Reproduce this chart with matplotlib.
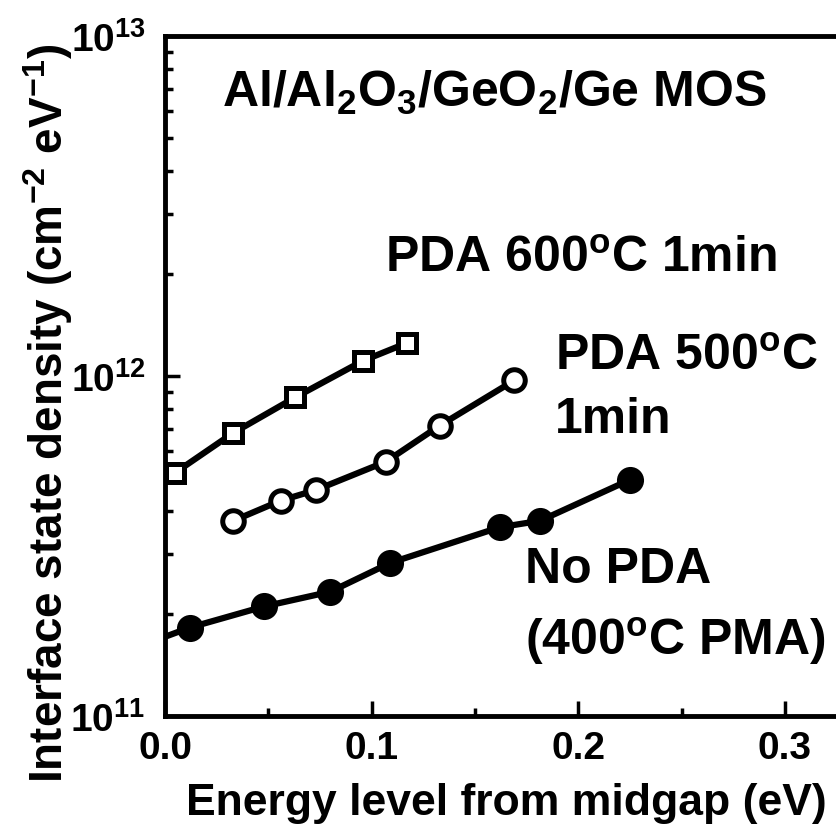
import numpy as np
import matplotlib
matplotlib.use("Agg")
import matplotlib.pyplot as plt

plt.rcParams['font.family'] = ['Liberation Sans', 'DejaVu Sans']
plt.rcParams['font.weight'] = 'bold'
plt.rcParams['mathtext.fontset'] = 'custom'
plt.rcParams['mathtext.rm'] = 'Liberation Sans:bold'
plt.rcParams['mathtext.it'] = 'Liberation Sans:bold'
plt.rcParams['mathtext.bf'] = 'Liberation Sans:bold'
plt.rcParams['mathtext.default'] = 'rm'

# PDA 600C 1min (open squares)
e_600 = [0.005, 0.033, 0.063, 0.096, 0.117]
dit_600 = [5.2e11, 6.8e11, 8.65e11, 1.11e12, 1.25e12]

# PDA 500C 1min (open circles)
e_500 = [0.033, 0.056, 0.073, 0.107, 0.133, 0.169]
dit_500 = [3.75e11, 4.3e11, 4.62e11, 5.6e11, 7.15e11, 9.7e11]

# No PDA, 400C PMA (filled circles); first entry is where the line meets the axis
e_none = [0.0, 0.012, 0.048, 0.080, 0.109, 0.162, 0.1815, 0.225]
dit_none = [1.71e11, 1.82e11, 2.1e11, 2.32e11, 2.82e11, 3.59e11, 3.75e11, 4.95e11]

xticks = [0.0, 0.1, 0.2, 0.3]
xticklabels = ['0.0', '0.1', '0.2', '0.3']
yticks = [1e11, 1e12, 1e13]
yticklabels = [r'$10^{11}$', r'$10^{12}$', r'$10^{13}$']

fig = plt.figure(figsize=(8.36, 8.29), dpi=100)
ax = fig.add_axes([165 / 836, 1 - 717 / 829, 0.35 * 2066 / 836, 680 / 829])

ax.plot(e_600, dit_600, color='black', lw=4.5, marker='s', ms=13, mew=3.6,
        mfc='white', mec='black', clip_on=False, zorder=3)
ax.plot(e_500, dit_500, color='black', lw=4.5, marker='o', ms=15.5, mew=3.6,
        mfc='white', mec='black', zorder=3)
ax.plot(e_none, dit_none, color='black', lw=4.5, marker='o', ms=18, mew=1.5,
        mfc='black', mec='black', markevery=list(range(1, len(e_none))), zorder=3)

ax.set_yscale('log')
ax.set_xlim(0, 0.35)
ax.set_ylim(1e11, 1e13)
ax.set_xticks(xticks)
ax.set_xticklabels(xticklabels)
ax.set_xticks([0.05, 0.15, 0.25], minor=True)
ax.set_yticks(yticks)
ax.set_yticklabels(yticklabels)

for s in ['left', 'bottom', 'top']:
    ax.spines[s].set_linewidth(3.5)
ax.spines['right'].set_visible(False)

ax.tick_params(which='major', direction='in', length=11, width=2.5,
               labelsize=28, pad=10)
ax.tick_params(which='minor', direction='in', length=6, width=2.5)
ax.tick_params(axis='y', which='both', labelsize=28, pad=14)

fig.text(506 / 836, 1 - 815 / 829, 'Energy level from midgap (eV)',
         fontsize=32, fontweight='bold', ha='center', va='baseline')
fig.text(0.058, 0.501, r'Interface state density (cm$^{-2}$ eV$^{-1}$)',
         rotation=90, fontsize=33, fontweight='bold', ha='center', va='center')

ax.text(222 / 836, 1 - 107 / 829, r'Al/Al$_2$O$_3$/GeO$_2$/Ge MOS',
        transform=fig.transFigure, fontsize=36, fontweight='bold', va='baseline')
ax.text(385 / 836, 1 - 272 / 829, r'PDA 600$^{o}$C 1min',
        transform=fig.transFigure, fontsize=36, fontweight='bold', va='baseline')
ax.text(555 / 836, 1 - 370 / 829, r'PDA 500$^{o}$C',
        transform=fig.transFigure, fontsize=36, fontweight='bold', va='baseline')
ax.text(555 / 836, 1 - 433 / 829, '1min',
        transform=fig.transFigure, fontsize=36, fontweight='bold', va='baseline')
ax.text(525 / 836, 1 - 583 / 829, 'No PDA',
        transform=fig.transFigure, fontsize=36, fontweight='bold', va='baseline')
ax.text(525 / 836, 1 - 655 / 829, r'(400$^{o}$C PMA)',
        transform=fig.transFigure, fontsize=36, fontweight='bold', va='baseline')

fig.savefig('out.png', dpi=100)
